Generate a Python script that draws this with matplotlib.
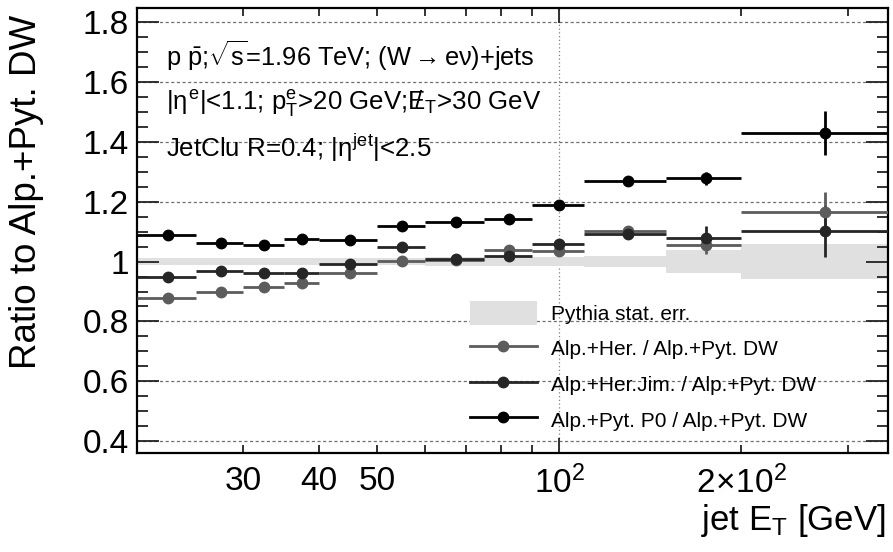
import matplotlib
matplotlib.use("Agg")
import matplotlib.pyplot as plt
from matplotlib.lines import Line2D
from matplotlib.patches import Patch

plt.rcParams['font.family'] = ['Liberation Sans', 'DejaVu Sans']
plt.rcParams['mathtext.fontset'] = 'custom'
plt.rcParams['mathtext.rm'] = 'Liberation Sans'
plt.rcParams['mathtext.it'] = 'Liberation Sans'
plt.rcParams['mathtext.bf'] = 'Liberation Sans:bold'

# jet ET bins [GeV]
bin_lo = [20, 25, 30, 35, 40, 50, 60, 75, 90, 110, 150, 200]
bin_hi = [25, 30, 35, 40, 50, 60, 75, 90, 110, 150, 200, 350]

# Pythia stat. error (band around 1)
pyt_err = [0.011, 0.011, 0.011, 0.011, 0.012, 0.013, 0.014, 0.016, 0.016, 0.018, 0.039, 0.058]

# ratios
her = [0.879, 0.898, 0.915, 0.929, 0.962, 1.001, 1.005, 1.040, 1.036, 1.103, 1.057, 1.166]
her_err = [0.005, 0.005, 0.005, 0.005, 0.006, 0.007, 0.008, 0.009, 0.010, 0.012, 0.030, 0.067]
herjim = [0.948, 0.967, 0.963, 0.962, 0.992, 1.049, 1.010, 1.019, 1.060, 1.092, 1.080, 1.101]
herjim_err = [0.005, 0.005, 0.005, 0.005, 0.006, 0.007, 0.008, 0.009, 0.010, 0.012, 0.040, 0.086]
p0 = [1.088, 1.063, 1.057, 1.074, 1.073, 1.119, 1.131, 1.142, 1.189, 1.269, 1.278, 1.429]
p0_err = [0.005, 0.005, 0.005, 0.005, 0.006, 0.007, 0.008, 0.009, 0.010, 0.012, 0.022, 0.074]

labels = ["Alp.+Her. / Alp.+Pyt. DW",
          "Alp.+Her.Jim. / Alp.+Pyt. DW",
          "Alp.+Pyt. P0 / Alp.+Pyt. DW"]
colors = ["#5c5c5c", "#262626", "#000000"]

centers = [(a + b) / 2 for a, b in zip(bin_lo, bin_hi)]
xerr = [[c - a for c, a in zip(centers, bin_lo)],
        [b - c for c, b in zip(centers, bin_hi)]]

fig = plt.figure(figsize=(8.93, 5.52), dpi=100)
ax = fig.add_axes([137 / 893, 1 - 453 / 552, 751 / 893, 445 / 552])
ax.set_xscale('log')
ax.set_xlim(20, 350)
ax.set_ylim(0.36, 1.848)

# grid
for yv in [0.4, 0.6, 0.8, 1.0, 1.2, 1.4, 1.6, 1.8]:
    ax.axhline(yv, color='#707070', lw=0.9, ls=(0, (2.5, 2)), zorder=0)
ax.axvline(100, color='#808080', lw=0.9, ls=(0, (1, 2)), zorder=0)

# band
ax.bar(bin_lo, [2 * e for e in pyt_err], bottom=[1 - e for e in pyt_err],
       width=[b - a for a, b in zip(bin_lo, bin_hi)], align='edge',
       color='#e0e0e0', lw=0, zorder=1)

for vals, errs, col in zip([her, herjim, p0], [her_err, herjim_err, p0_err], colors):
    ax.errorbar(centers, vals, xerr=xerr, yerr=errs, fmt='o', color=col,
                ms=7.5, elinewidth=2, capsize=0, zorder=3)

# ticks
ax.set_xticks([100], ["$10^{2}$"])
minor = [30, 40, 50, 60, 70, 80, 90, 200, 300]
minor_lab = ["30", "40", "50", "", "", "", "", r"$2\!\times\!10^{2}$", ""]
ax.set_xticks(minor, minor_lab, minor=True)
ax.set_yticks([0.4, 0.6, 0.8, 1.0, 1.2, 1.4, 1.6, 1.8],
              ["0.4", "0.6", "0.8", "1", "1.2", "1.4", "1.6", "1.8"])
ax.set_yticks([0.4 + 0.05 * i for i in range(30) if i % 4 != 0 and 0.4 + 0.05 * i < 1.85], minor=True)
ax.tick_params(axis='both', which='both', direction='in', top=True, right=True,
               labelsize=24, width=1.3, color='#222222')
ax.tick_params(axis='y', which='major', length=16, pad=6)
ax.tick_params(axis='y', which='minor', length=8)
ax.tick_params(axis='x', which='major', length=11, pad=9)
ax.tick_params(axis='x', which='minor', length=6, pad=9)
for s in ax.spines.values():
    s.set_linewidth(1.6)

ax.set_ylabel("Ratio to Alp.+Pyt. DW", fontsize=26.5, loc='top')
ax.yaxis.set_label_coords(-0.124, 0.985)
ax.set_xlabel("jet E$_{T}$ [GeV]", fontsize=25, loc='right')
ax.xaxis.set_label_coords(0.997, -0.11)

# annotations
ax.text(166 / 893, 1 - 66 / 552, r"p $\bar{\mathrm{p}}$;$\sqrt{\mathrm{s}}$=1.96 TeV; (W$\rightarrow$e$\nu$)+jets",
        transform=fig.transFigure, fontsize=18.3)
ax.text(166 / 893, 1 - 110 / 552, r"|$\eta^{e}$|<1.1; p$_{T}^{e}$>20 GeV; $/\!\!\!\!E_{T}$>30 GeV",
        transform=fig.transFigure, fontsize=18.6)
ax.text(166 / 893, 1 - 157 / 552, r"JetClu R=0.4; |$\eta^{jet}$|<2.5",
        transform=fig.transFigure, fontsize=18.6)

handles = [Patch(facecolor='#e0e0e0', edgecolor='none')]
for col in colors:
    handles.append(Line2D([0], [0], color=col, lw=2, marker='o', ms=7.5))
leg = ax.legend(handles, ["Pythia stat. err."] + labels, loc='upper left',
                bbox_to_anchor=(470 / 893, 1 - 301 / 552), bbox_transform=fig.transFigure,
                frameon=False, fontsize=15, handlelength=3.2, handleheight=1.4,
                handletextpad=0.7, labelspacing=0.55, borderpad=0, borderaxespad=0)

fig.savefig("out.png", dpi=100)
